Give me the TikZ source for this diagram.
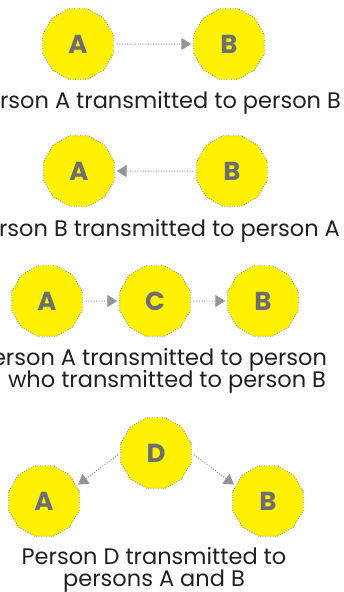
\documentclass[tikz,border=0pt]{standalone}
\usepackage{fontspec}
\setmainfont{Poppins}
\usetikzlibrary{shapes.geometric,arrows.meta}
\definecolor{pyellow}{HTML}{FFF100}
\definecolor{pgray}{HTML}{6D6E71}
\definecolor{agray}{HTML}{939598}
\definecolor{txt}{HTML}{231F20}
\tikzset{
  person/.style={regular polygon, regular polygon sides=12, minimum size=73pt, inner sep=0pt,
    fill=pyellow, draw=agray, line width=0.9pt, dash pattern=on 0.9pt off 1.6pt,
    text=pgray, font=\fontsize{26}{26}\selectfont\bfseries},
  link/.style={draw=agray, line width=1pt, dash pattern=on 1pt off 1.6pt,
    -{Triangle[length=10pt,width=12pt]}, shorten <=3pt, shorten >=2pt},
  caption/.style={anchor=base, text=txt, font=\fontsize{22.5}{23}\selectfont, align=center, inner sep=0pt}
}
\begin{document}
\begin{tikzpicture}[x=1pt,y=-1pt]
\useasboundingbox (0,0) rectangle (344,592);
% panel 1
\node[person] (a1) at (78,44) {A};
\node[person] (b1) at (229,44) {B};
\draw[link] (a1) -- (b1);
\node[caption] (c1) at (157,108) {Person A transmitted to person B};
% panel 2
\node[person] (a2) at (79,171) {A};
\node[person] (b2) at (232,171) {B};
\draw[link] (b2) -- (a2);
\node[caption] (c2) at (156,236) {Person B transmitted to person A};
% panel 3
\node[person] (a3) at (47,301) {A};
\node[person] (c3) at (155,301) {C};
\node[person] (b3) at (263,301) {B};
\draw[link] (a3) -- (c3);
\draw[link] (c3) -- (b3);
\node[caption] (t3a) at (153,365) {Person A transmitted to person};
\node[caption] (t3b) at (167,387) {who transmitted to person B};
% panel 4
\node[person] (d4) at (156,453) {D};
\node[person] (a4) at (44,501) {A};
\node[person] (b4) at (268,501) {B};
\draw[link] (d4.180) -- (a4.25);
\draw[link] (d4.0) -- (b4.155);
\node[caption] (t4a) at (154,564) {Person D transmitted to};
\node[caption] (t4b) at (154,586) {persons A and B};
\end{tikzpicture}
\end{document}
